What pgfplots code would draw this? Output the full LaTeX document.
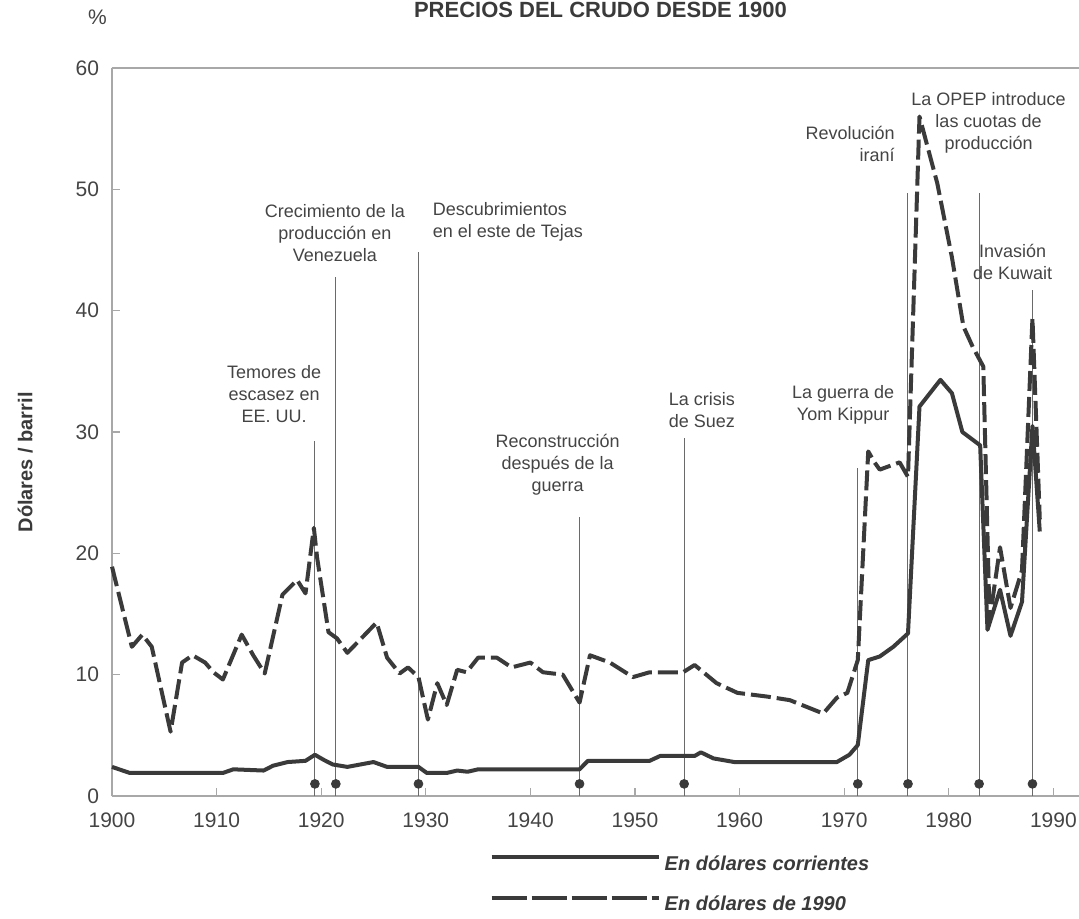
\documentclass[border=0pt]{standalone}
\usepackage{fontspec}
\setmainfont{Liberation Sans}
\usepackage{pgfplots}
\pgfplotsset{compat=1.18}
\definecolor{ink}{HTML}{3A3A3A}
\definecolor{txt}{HTML}{444444}
\definecolor{frame}{HTML}{A8A8A8}
\definecolor{evt}{HTML}{6A6A6A}

\begin{document}
\begin{tikzpicture}
\useasboundingbox (-56pt,-61pt) rectangle (483.5pt,398pt);
\begin{axis}[
  scale only axis,
  width=483.5pt, height=364pt,
  xmin=1900, xmax=1992.45,
  ymin=0, ymax=60,
  axis x line*=bottom, axis y line*=left,
  axis line style={frame, line width=0.7pt},
  xtick={1900,1910,...,1990},
  ytick={0,10,...,60},
  extra y ticks={60},
  extra y tick labels={},
  extra y tick style={grid=major, major grid style={frame, line width=0.7pt}},
  tick align=inside,
  major tick length=4pt,
  tick style={frame, line width=0.6pt},
  /pgf/number format/assume math mode=true,
  xticklabel={\pgfmathprintnumber[1000 sep={}]{\tick}},
  ticklabel style={font=\fontsize{10.5}{12}\selectfont, text=txt},
  xticklabel style={yshift=-5pt},
  yticklabel style={xshift=-3pt},
  clip=false,
  legend style={at={(rel axis cs:0.384,-0.070)}, anchor=north west,
    draw=none, fill=none, row sep=7.5pt,
    font=\fontsize{10}{12}\selectfont\bfseries\itshape, text=ink},
  legend cell align=left,
]
% lineas de acontecimientos
\addplot[ycomb, evt, line width=0.5pt, forget plot] coordinates {
  (1919.4,29.3) (1921.4,42.8) (1929.3,44.8) (1944.7,23.0) (1954.7,29.5)
  (1971.3,27.0) (1976.1,49.7) (1982.9,49.7) (1988.0,41.7)
};
\addplot[only marks, mark=*, mark size=2.2pt, ink, forget plot] coordinates {
  (1919.4,1.0) (1921.4,1.0) (1929.3,1.0) (1944.7,1.0) (1954.7,1.0)
  (1971.3,1.0) (1976.1,1.0) (1982.9,1.0) (1988.0,1.0)
};
% en dolares corrientes
\addplot[ink, line width=2pt, line join=round,
  legend image code/.code={\draw[ink, line width=2pt] (0pt,3.5pt) -- (83.5pt,3.5pt);}]
  coordinates {
  (1900.0,2.4) (1901.7,1.9) (1910.6,1.9) (1911.6,2.2) (1914.5,2.1) (1915.4,2.5)
  (1916.8,2.8) (1918.5,2.9) (1919.4,3.4) (1920.2,3.0) (1921.1,2.6) (1922.5,2.4)
  (1925.0,2.8) (1926.3,2.4) (1929.3,2.4) (1930.1,1.9) (1932.0,1.9) (1933.0,2.1)
  (1934.0,2.0) (1935.0,2.2) (1944.7,2.2) (1945.5,2.9) (1951.4,2.9) (1952.4,3.3)
  (1955.7,3.3) (1956.3,3.6) (1957.5,3.1) (1959.5,2.8) (1969.3,2.8) (1970.5,3.4)
  (1971.3,4.2) (1972.3,11.2) (1973.4,11.5) (1974.7,12.3) (1976.1,13.4)
  (1977.2,32.1) (1979.2,34.3) (1980.3,33.2) (1981.3,30.0) (1983.0,28.9)
  (1983.7,13.7) (1984.9,17.0) (1985.9,13.2) (1987.0,16.0) (1988.0,30.5) (1988.7,21.8)
};
\addlegendentry{En dólares corrientes}
% en dolares de 1990
\addplot[ink, line width=2pt, line join=round, dash pattern=on 10pt off 3pt,
  legend image code/.code={\draw[ink, line width=2pt, dash pattern=on 17.5pt off 2.5pt] (0pt,3.5pt) -- (83.5pt,3.5pt);}]
  coordinates {
  (1900.0,18.9) (1901.9,12.3) (1902.9,13.3) (1903.8,12.3) (1905.6,5.3) (1906.7,11.0)
  (1907.7,11.6) (1908.9,11.0) (1909.7,10.2) (1910.6,9.6) (1912.4,13.3) (1913.5,11.6)
  (1914.6,10.1) (1916.3,16.6) (1917.7,17.8) (1918.5,16.7) (1919.3,22.1) (1919.6,19.7)
  (1920.7,13.5) (1921.5,13.0) (1922.5,11.8) (1925.3,14.3) (1926.3,11.4) (1927.5,10.1)
  (1928.3,10.6) (1929.3,9.8) (1930.2,6.3) (1931.1,9.3) (1932.0,7.5) (1933.0,10.4)
  (1933.9,10.2) (1935.0,11.4) (1936.8,11.4) (1938.2,10.6) (1940.0,11.0) (1941.2,10.2)
  (1943.1,10.0) (1944.7,7.7) (1945.7,11.6) (1947.6,11.0) (1949.8,9.8) (1951.4,10.2)
  (1954.6,10.2) (1955.7,10.8) (1957.8,9.3) (1959.8,8.5) (1962.6,8.2) (1964.8,7.9)
  (1968.0,6.8) (1969.3,8.1) (1970.3,8.5) (1971.3,11.2) (1972.3,28.4) (1972.9,27.5)
  (1973.4,26.9) (1975.3,27.5) (1976.1,26.3) (1977.2,56.0) (1978.9,50.5) (1980.3,44.4)
  (1981.4,38.7) (1982.3,37.0) (1983.3,35.4) (1983.9,14.5) (1984.9,20.5) (1985.4,18.0)
  (1985.9,15.5) (1987.0,18.6) (1988.0,39.4) (1988.7,22.8)
};
\addlegendentry{En dólares de 1990}

% textos
\node[font=\fontsize{11}{13}\selectfont\bfseries, text=ink, anchor=base] at (axis cs:1946.7,64.2) {PRECIOS DEL CRUDO DESDE 1900};
\node[font=\fontsize{10.5}{12}\selectfont, text=txt, anchor=base] at (axis cs:1898.6,63.6) {\%};
\node[font=\fontsize{10}{12}\selectfont\bfseries, text=ink, rotate=90] at (axis cs:1891.7,27.5) {Dólares / barril};
\begin{scope}[every node/.style={font=\fontsize{9}{11}\selectfont, text=txt}]
\node[align=center] at (axis cs:1915.5,33.1) {Temores de\\escasez en\\EE. UU.};
\node[align=center] at (axis cs:1921.3,46.4) {Crecimiento de la\\producción en\\Venezuela};
\node[align=left, anchor=west] at (axis cs:1930.0,47.3) {Descubrimientos\\en el este de Tejas};
\node[align=center] at (axis cs:1942.6,27.3) {Reconstrucción\\después de la\\guerra};
\node[align=center] at (axis cs:1956.4,31.8) {La crisis\\de Suez};
\node[align=center] at (axis cs:1969.9,32.2) {La guerra de\\Yom Kippur};
\node[align=right, anchor=east] at (axis cs:1975.5,53.7) {Revolución\\iraní};
\node[align=center] at (axis cs:1983.8,55.5) {La OPEP introduce\\las cuotas de\\producción};
\node[align=center] at (axis cs:1986.1,44.0) {Invasión\\de Kuwait};
\end{scope}
\end{axis}
\end{tikzpicture}
\end{document}
